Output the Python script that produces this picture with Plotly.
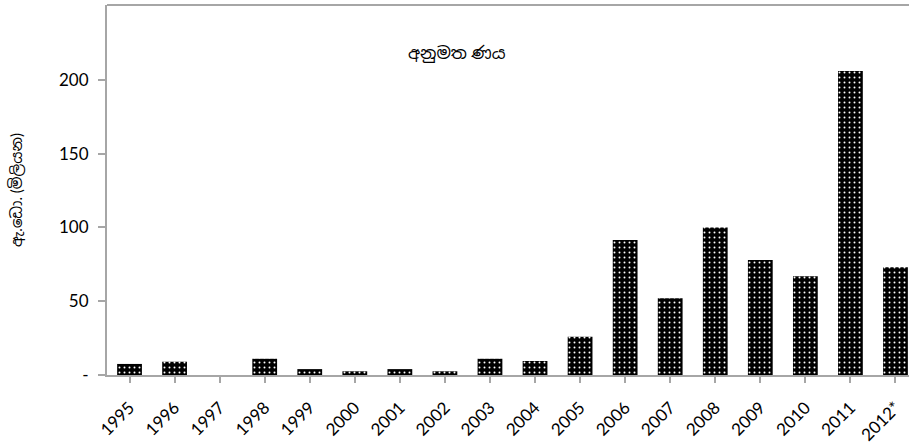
import plotly.graph_objects as go

years = ["1995", "1996", "1997", "1998", "1999", "2000", "2001", "2002", "2003",
         "2004", "2005", "2006", "2007", "2008", "2009", "2010", "2011", "2012*"]
values = [7.5, 9, 0, 11, 4, 2.5, 4, 2.5, 11, 9.5, 26, 91.5, 52, 100, 78, 67, 206, 73]
ytick_vals = [0, 50, 100, 150, 200]
ytick_text = ["-", "50", "100", "150", "200"]
title_text = "අනුමත ණය"
ytitle_text = "ඇ.ඩො. (මිලියන)"

fig = go.Figure(go.Bar(
    x=list(range(len(years))), y=values, width=0.55,
    marker=dict(color="black",
                line=dict(color="black", width=0),
                pattern=dict(shape=".", bgcolor="black", fgcolor="white",
                             size=5, solidity=0.12, fillmode="replace")),
))

fig.update_layout(
    width=909, height=446,
    margin=dict(l=107, r=0, t=5, b=71),
    plot_bgcolor="white", paper_bgcolor="white",
    showlegend=False,
    font=dict(family="Lato, Noto Sans, Noto Sans Sinhala, sans-serif", color="black"),
    xaxis=dict(
        range=[-0.5, 17.3],
        tickmode="array", tickvals=list(range(len(years))), ticktext=years,
        tickangle=-45, tickfont=dict(size=17), ticklabelstandoff=8,
        showline=True, linecolor="#a6a6a6", linewidth=2,
        ticks="outside", tickson="boundaries", ticklen=6, tickcolor="#a6a6a6", tickwidth=2,
        showgrid=False, zeroline=False,
    ),
    yaxis=dict(
        range=[0, 250.8],
        tickmode="array", tickvals=ytick_vals, ticktext=ytick_text,
        tickfont=dict(size=17), ticklabelstandoff=6,
        showline=True, linecolor="#a6a6a6", linewidth=2,
        ticks="outside", ticklen=7, tickcolor="#a6a6a6", tickwidth=2,
        showgrid=False, zeroline=False,
        title=dict(text=ytitle_text, font=dict(size=15), standoff=33),
    ),
    shapes=[dict(type="line", xref="paper", yref="paper", x0=0, x1=1, y0=1, y1=1,
                 line=dict(color="#a6a6a6", width=2))],
    annotations=[dict(text=title_text, xref="paper", yref="paper", x=0.436, y=0.905,
                      showarrow=False, font=dict(size=17))],
)

fig.write_html("out.html")
